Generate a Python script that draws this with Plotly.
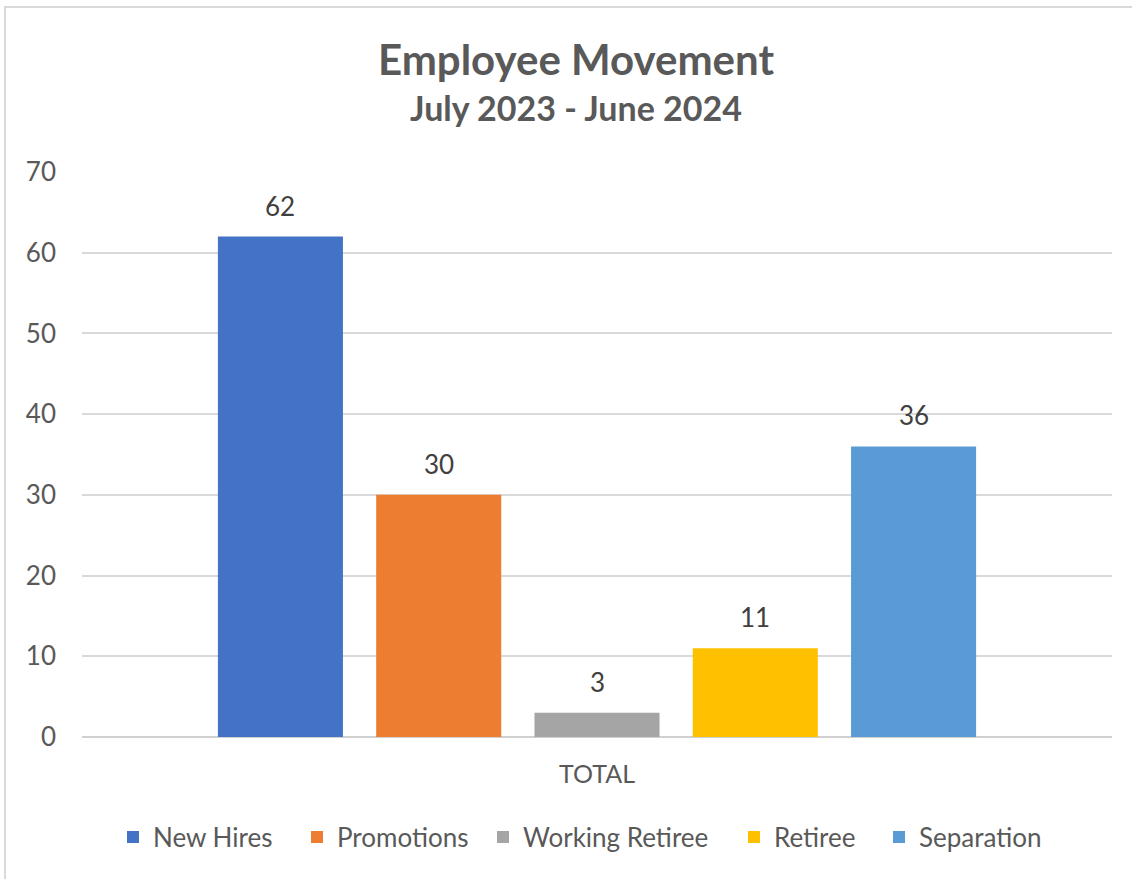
import plotly.graph_objects as go

# Employee movement totals, July 2023 - June 2024
series = ["New Hires", "Promotions", "Working Retiree", "Retiree", "Separation"]
values = [62, 30, 3, 11, 36]
colors = ["#4472C4", "#ED7D31", "#A5A5A5", "#FFC000", "#5B9BD5"]
category = "TOTAL"
y_ticks = [0, 10, 20, 30, 40, 50, 60, 70]
title = "Employee Movement"
subtitle = "July 2023 - June 2024"

FONT = "Lato"
GREY = "#595959"

W, H = 1132, 879
L, R, T, B = 82, 20, 172, 142
plot_w = W - L - R
plot_h = H - T - B

# left edge (px) of each legend entry along the bottom row
legend_left_px = [113, 297, 483, 734, 879]
legend_row_px = 837

fig = go.Figure()

# one bar per series, placed side by side on a numeric axis around the category
positions = list(range(len(series)))
legend_layouts = {}
for i, (pos, name, val, col) in enumerate(zip(positions, series, values, colors)):
    lg = "legend" if i == 0 else f"legend{i + 1}"
    fig.add_trace(go.Bar(
        x=[pos], y=[val], name=name, width=0.79,
        legend=lg,
        marker=dict(color=col, line=dict(width=0)),
        hoverinfo="name+y",
    ))
    fig.add_annotation(
        x=pos, y=val, text=str(val), showarrow=False,
        yanchor="bottom", yshift=13,
        font=dict(family=FONT, size=26, color="#404040"),
    )
    legend_layouts[lg] = dict(
        orientation="h",
        x=(legend_left_px[i] - L) / plot_w, xanchor="left",
        y=-(legend_row_px - (H - B)) / plot_h, yanchor="middle",
        font=dict(family=FONT, size=26, color=GREY),
        itemwidth=30, bgcolor="rgba(0,0,0,0)",
    )

center = (len(series) - 1) / 2
half_span = 3.2535

# subtitle line under the main title
fig.add_annotation(
    xref="paper", yref="paper",
    x=(576 - L) / plot_w, y=(H - B - 107) / plot_h,
    xanchor="center", yanchor="middle", showarrow=False,
    text=f"<b>{subtitle}</b>",
    font=dict(family=FONT, size=34, color=GREY),
)

fig.update_layout(
    width=W, height=H,
    margin=dict(l=L, r=R, t=T, b=B),
    paper_bgcolor="white", plot_bgcolor="white",
    barmode="overlay",
    title=dict(
        text=f"<b>{title}</b>",
        x=576 / W, xanchor="center", xref="container",
        y=1 - 60 / H, yanchor="middle", yref="container",
        font=dict(family=FONT, size=42, color=GREY),
    ),
    xaxis=dict(
        range=[center - half_span, center + half_span],
        tickvals=[center], ticktext=[category],
        showgrid=False, zeroline=False, showline=False, ticks="",
        ticklabelstandoff=20,
        tickfont=dict(family=FONT, size=25, color=GREY),
        fixedrange=True,
    ),
    yaxis=dict(
        range=[0, 70], tickvals=y_ticks,
        showgrid=True, gridcolor="#D9D9D9", gridwidth=1.5,
        zeroline=True, zerolinecolor="#D0D0D0", zerolinewidth=2,
        showline=False, ticks="",
        ticklabelstandoff=25,
        tickfont=dict(family=FONT, size=26, color=GREY),
        fixedrange=True,
    ),
    showlegend=True,
    **legend_layouts,
)

# light chart-area frame
fig.add_shape(
    type="rect", xref="paper", yref="paper",
    x0=-(L - 5) / plot_w, x1=1.05, y0=-0.3, y1=(H - B - 7) / plot_h,
    line=dict(color="#D9D9D9", width=2), fillcolor="rgba(0,0,0,0)",
    layer="below",
)

fig.write_html("out.html")
